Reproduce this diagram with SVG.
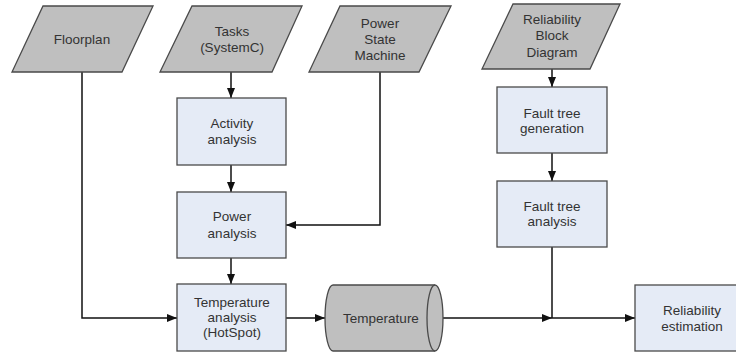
<svg xmlns="http://www.w3.org/2000/svg" width="736" height="354" viewBox="0 0 736 354">
<defs>
<style>
.io{fill:#bfbfbf;stroke:#4a4a4a;stroke-width:1.3}
.box{fill:#e5ebf6;stroke:#4a4a4a;stroke-width:1.3}
.t{font-family:"Liberation Sans",Arial,sans-serif;font-size:13.5px;fill:#333;text-anchor:middle}
.c{fill:none;stroke:#111;stroke-width:1.5}
</style>
<marker id="ah" viewBox="0 0 10 10" refX="10" refY="5" markerWidth="10" markerHeight="10" markerUnits="userSpaceOnUse" orient="auto">
<path d="M0,1 L10,5 L0,9 Z" fill="#111"/>
</marker>
</defs>
<rect width="736" height="354" fill="#fff"/>
<g id="connectors">
<path class="c" d="M82,72 V318 H177" marker-end="url(#ah)"/>
<path class="c" d="M231,72 V98" marker-end="url(#ah)"/>
<path class="c" d="M231,165 V192" marker-end="url(#ah)"/>
<path class="c" d="M231,258 V284" marker-end="url(#ah)"/>
<path class="c" d="M380,72 V225 H286" marker-end="url(#ah)"/>
<path class="c" d="M286,318 H325" marker-end="url(#ah)"/>
<path class="c" d="M443,318 H552" marker-end="url(#ah)"/>
<path class="c" d="M552,69 V87" marker-end="url(#ah)"/>
<path class="c" d="M552,153 V181" marker-end="url(#ah)"/>
<path class="c" d="M552,247 V318"/>
<path class="c" d="M552,318 H635" marker-end="url(#ah)"/>
</g>
<g id="floorplan">
<polygon class="io" points="43,6 153,6 122,72 12,72"/>
<text class="t" x="82" y="44">Floorplan</text>
</g>
<g id="tasks">
<polygon class="io" points="192,6 302,6 272,72 160,72"/>
<text class="t" x="232" y="36">Tasks</text>
<text class="t" x="232" y="52">(SystemC)</text>
</g>
<g id="psm">
<polygon class="io" points="340,6 451,6 419,72 309,72"/>
<text class="t" x="380" y="28">Power</text>
<text class="t" x="380" y="44">State</text>
<text class="t" x="380" y="60">Machine</text>
</g>
<g id="rbd">
<polygon class="io" points="513,4 620,4 590,69 482,69"/>
<text class="t" x="552" y="24">Reliability</text>
<text class="t" x="552" y="40">Block</text>
<text class="t" x="552" y="57">Diagram</text>
</g>
<g id="activity">
<rect class="box" x="177" y="98" width="109" height="67"/>
<text class="t" x="232" y="128">Activity</text>
<text class="t" x="232" y="144">analysis</text>
</g>
<g id="power">
<rect class="box" x="177" y="192" width="109" height="66"/>
<text class="t" x="232" y="221">Power</text>
<text class="t" x="232" y="238">analysis</text>
</g>
<g id="tempanalysis">
<rect class="box" x="177" y="284" width="109" height="67"/>
<text class="t" x="232" y="307">Temperature</text>
<text class="t" x="232" y="322">analysis</text>
<text class="t" x="232" y="337">(HotSpot)</text>
</g>
<g id="temperature">
<path class="io" d="M333,285 L435,285 A8,33 0 0 1 435,351 L333,351 A8,33 0 0 1 333,285 Z"/>
<path class="io" d="M435,285 A8,33 0 0 0 435,351"/>
<text class="t" x="381" y="323">Temperature</text>
</g>
<g id="ftgen">
<rect class="box" x="497" y="87" width="110" height="66"/>
<text class="t" x="552" y="118">Fault tree</text>
<text class="t" x="552" y="133">generation</text>
</g>
<g id="ftanalysis">
<rect class="box" x="497" y="181" width="110" height="66"/>
<text class="t" x="552" y="211">Fault tree</text>
<text class="t" x="552" y="226">analysis</text>
</g>
<g id="relest">
<rect class="box" x="635" y="285" width="114" height="66"/>
<text class="t" x="692" y="315">Reliability</text>
<text class="t" x="692" y="331">estimation</text>
</g>
</svg>
